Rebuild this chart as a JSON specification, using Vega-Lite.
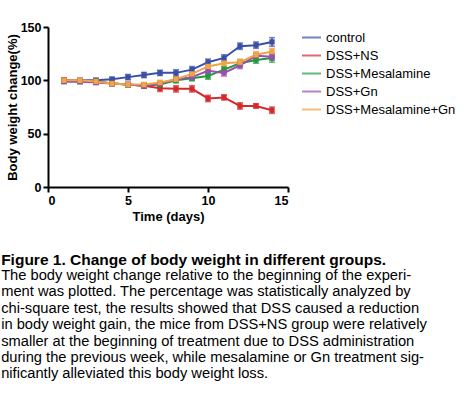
{
  "$schema": "https://vega.github.io/schema/vega-lite/v6.json",
  "width": 240,
  "height": 160,
  "padding": {"left": 1, "top": 21, "right": 0, "bottom": 0},
  "background": "white",
  "datasets": {
    "weights": [
      {"group": "control", "day": 1, "value": 100, "err": 2},
      {"group": "control", "day": 2, "value": 100, "err": 2},
      {"group": "control", "day": 3, "value": 100, "err": 2},
      {"group": "control", "day": 4, "value": 101, "err": 2},
      {"group": "control", "day": 5, "value": 103, "err": 2.5},
      {"group": "control", "day": 6, "value": 105, "err": 2.5},
      {"group": "control", "day": 7, "value": 107, "err": 2.5},
      {"group": "control", "day": 8, "value": 107, "err": 3},
      {"group": "control", "day": 9, "value": 110, "err": 3},
      {"group": "control", "day": 10, "value": 117, "err": 3},
      {"group": "control", "day": 11, "value": 121, "err": 3},
      {"group": "control", "day": 12, "value": 132, "err": 3},
      {"group": "control", "day": 13, "value": 133, "err": 3},
      {"group": "control", "day": 14, "value": 136, "err": 4},
      {"group": "DSS+NS", "day": 1, "value": 100, "err": 2},
      {"group": "DSS+NS", "day": 2, "value": 99, "err": 2},
      {"group": "DSS+NS", "day": 3, "value": 99, "err": 2},
      {"group": "DSS+NS", "day": 4, "value": 97, "err": 2},
      {"group": "DSS+NS", "day": 5, "value": 96, "err": 2},
      {"group": "DSS+NS", "day": 6, "value": 95, "err": 2.5},
      {"group": "DSS+NS", "day": 7, "value": 92.5, "err": 3},
      {"group": "DSS+NS", "day": 8, "value": 92, "err": 3},
      {"group": "DSS+NS", "day": 9, "value": 92, "err": 3},
      {"group": "DSS+NS", "day": 10, "value": 83, "err": 3},
      {"group": "DSS+NS", "day": 11, "value": 84, "err": 2.5},
      {"group": "DSS+NS", "day": 12, "value": 76, "err": 3},
      {"group": "DSS+NS", "day": 13, "value": 76, "err": 2},
      {"group": "DSS+NS", "day": 14, "value": 72, "err": 3},
      {"group": "DSS+Mesalamine", "day": 1, "value": 99, "err": 2},
      {"group": "DSS+Mesalamine", "day": 2, "value": 99, "err": 2},
      {"group": "DSS+Mesalamine", "day": 3, "value": 99, "err": 2},
      {"group": "DSS+Mesalamine", "day": 4, "value": 97, "err": 2},
      {"group": "DSS+Mesalamine", "day": 5, "value": 96, "err": 2},
      {"group": "DSS+Mesalamine", "day": 6, "value": 95, "err": 2},
      {"group": "DSS+Mesalamine", "day": 7, "value": 96, "err": 2},
      {"group": "DSS+Mesalamine", "day": 8, "value": 100, "err": 2.5},
      {"group": "DSS+Mesalamine", "day": 9, "value": 102, "err": 2.5},
      {"group": "DSS+Mesalamine", "day": 10, "value": 104, "err": 3},
      {"group": "DSS+Mesalamine", "day": 11, "value": 110, "err": 3},
      {"group": "DSS+Mesalamine", "day": 12, "value": 116, "err": 3},
      {"group": "DSS+Mesalamine", "day": 13, "value": 119, "err": 3},
      {"group": "DSS+Mesalamine", "day": 14, "value": 121, "err": 4},
      {"group": "DSS+Gn", "day": 1, "value": 99, "err": 2},
      {"group": "DSS+Gn", "day": 2, "value": 99, "err": 2},
      {"group": "DSS+Gn", "day": 3, "value": 98, "err": 2},
      {"group": "DSS+Gn", "day": 4, "value": 97, "err": 2},
      {"group": "DSS+Gn", "day": 5, "value": 96, "err": 2},
      {"group": "DSS+Gn", "day": 6, "value": 95, "err": 2},
      {"group": "DSS+Gn", "day": 7, "value": 97, "err": 2},
      {"group": "DSS+Gn", "day": 8, "value": 101, "err": 2.5},
      {"group": "DSS+Gn", "day": 9, "value": 103, "err": 2.5},
      {"group": "DSS+Gn", "day": 10, "value": 109, "err": 3},
      {"group": "DSS+Gn", "day": 11, "value": 107, "err": 3},
      {"group": "DSS+Gn", "day": 12, "value": 114, "err": 3},
      {"group": "DSS+Gn", "day": 13, "value": 123, "err": 3},
      {"group": "DSS+Gn", "day": 14, "value": 122, "err": 3},
      {"group": "DSS+Mesalamine+Gn", "day": 1, "value": 100, "err": 2},
      {"group": "DSS+Mesalamine+Gn", "day": 2, "value": 100, "err": 2},
      {"group": "DSS+Mesalamine+Gn", "day": 3, "value": 99, "err": 2},
      {"group": "DSS+Mesalamine+Gn", "day": 4, "value": 97, "err": 2},
      {"group": "DSS+Mesalamine+Gn", "day": 5, "value": 96, "err": 2},
      {"group": "DSS+Mesalamine+Gn", "day": 6, "value": 96, "err": 2},
      {"group": "DSS+Mesalamine+Gn", "day": 7, "value": 98, "err": 2},
      {"group": "DSS+Mesalamine+Gn", "day": 8, "value": 101, "err": 2.5},
      {"group": "DSS+Mesalamine+Gn", "day": 9, "value": 106, "err": 2.5},
      {"group": "DSS+Mesalamine+Gn", "day": 10, "value": 113, "err": 3},
      {"group": "DSS+Mesalamine+Gn", "day": 11, "value": 116, "err": 3},
      {"group": "DSS+Mesalamine+Gn", "day": 12, "value": 117, "err": 3},
      {"group": "DSS+Mesalamine+Gn", "day": 13, "value": 124, "err": 3},
      {"group": "DSS+Mesalamine+Gn", "day": 14, "value": 127, "err": 3}
    ]
  },
  "data": {"name": "weights"},
  "title": {
    "text": "Figure 1. Change of body weight in different groups.",
    "subtitle": [
      "The body weight change relative to the beginning of the experi-",
      "ment was plotted. The percentage was statistically analyzed by",
      "chi-square test, the results showed that DSS caused a reduction",
      "in body weight gain, the mice from DSS+NS group were relatively",
      "smaller at the beginning of treatment due to DSS administration",
      "during the previous week, while mesalamine or Gn treatment sig-",
      "nificantly alleviated this body weight loss."
    ],
    "orient": "bottom",
    "anchor": "start",
    "frame": "bounds",
    "offset": 29,
    "dx": -5,
    "font": "Liberation Sans",
    "fontSize": 15.5,
    "fontWeight": "bold",
    "color": "black",
    "subtitleFont": "Liberation Sans",
    "subtitleFontSize": 14.7,
    "subtitleColor": "black",
    "subtitleLineHeight": 16.4,
    "subtitlePadding": 0
  },
  "encoding": {
    "x": {
      "field": "day",
      "type": "quantitative",
      "scale": {"domain": [0, 15]},
      "axis": {"values": [0, 5, 10, 15], "title": "Time (days)"}
    },
    "y": {
      "field": "value",
      "type": "quantitative",
      "scale": {"domain": [0, 150]},
      "axis": {"values": [0, 50, 100, 150], "title": "Body weight change(%)", "titlePadding": 1}
    },
    "color": {
      "field": "group",
      "type": "nominal",
      "scale": {
        "domain": ["control", "DSS+NS", "DSS+Mesalamine", "DSS+Gn", "DSS+Mesalamine+Gn"],
        "range": ["#3a4fa8", "#d42a2e", "#23993c", "#9b4db3", "#f2a444"]
      },
      "legend": {"title": null}
    }
  },
  "layer": [
    {
      "mark": {"type": "errorbar", "ticks": {"size": 6, "thickness": 1.5}, "thickness": 1.5},
      "encoding": {
        "yError": {"field": "err"}
      }
    },
    {
      "mark": {"type": "line", "strokeWidth": 2}
    },
    {
      "mark": {"type": "point", "shape": "square", "filled": true, "size": 28, "opacity": 1}
    }
  ],
  "config": {
    "view": {"stroke": null},
    "axis": {
      "grid": false,
      "domainColor": "black",
      "domainWidth": 2,
      "tickColor": "black",
      "tickWidth": 2,
      "tickSize": 5,
      "labelFont": "Liberation Sans",
      "labelFontSize": 12.5,
      "labelFontWeight": "bold",
      "labelColor": "black",
      "titleFont": "Liberation Sans",
      "titleFontSize": 13,
      "titleFontWeight": "bold",
      "titleColor": "black"
    },
    "legend": {
      "symbolType": "stroke",
      "symbolStrokeWidth": 2,
      "symbolSize": 361,
      "labelFont": "Liberation Sans",
      "labelFontSize": 13,
      "labelColor": "black",
      "rowPadding": 0,
      "offset": 13,
      "padding": 0
    }
  }
}
